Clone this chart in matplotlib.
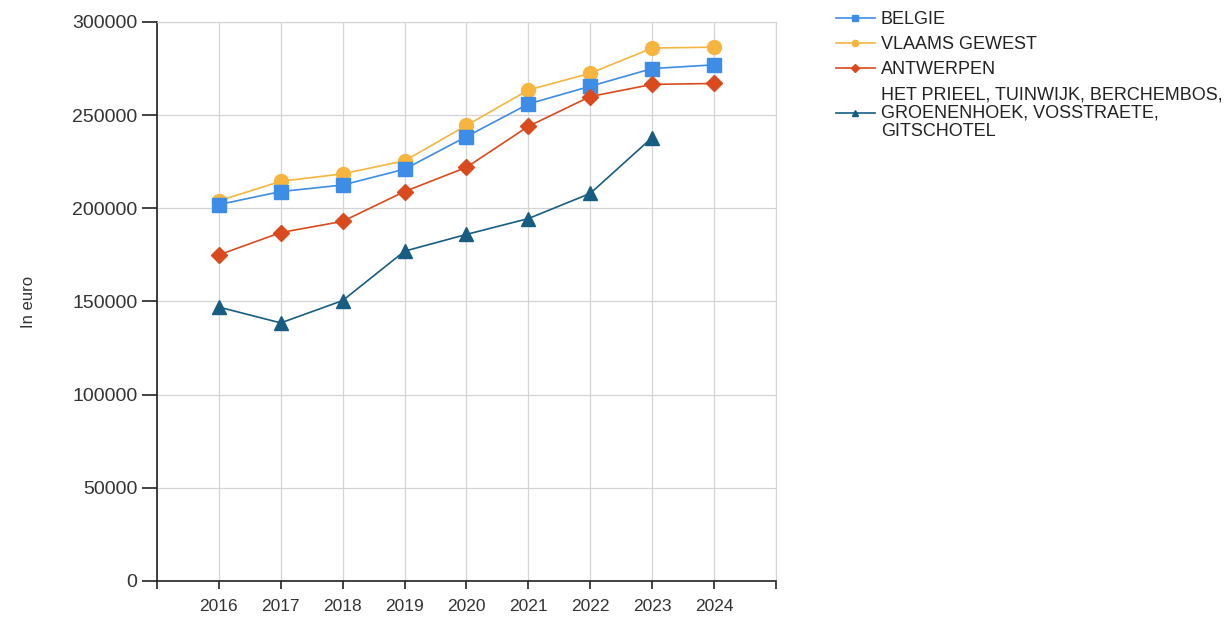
import matplotlib.pyplot as plt
import numpy as np

# data
years = [2016, 2017, 2018, 2019, 2020, 2021, 2022, 2023, 2024]
belgie = [202000, 209000, 212500, 221000, 238500, 256000, 265500, 275000, 277000]
vlaams_gewest = [204000, 214500, 218500, 225500, 244500, 263500, 272500, 286000, 286500]
antwerpen = [175000, 187000, 193000, 209000, 222000, 244000, 260000, 266500, 267000]
wijk = [147000, 138500, 150500, 177000, 186000, 194500, 208000, 238000]

labels = ['BELGIE', 'VLAAMS GEWEST', 'ANTWERPEN',
          'HET PRIEEL, TUINWIJK, BERCHEMBOS,\nGROENENHOEK, VOSSTRAETE,\nGITSCHOTEL']
colors = ['#3d8ce6', '#f5b53f', '#d94a1e', '#175d82']

plt.rcParams['font.family'] = ['Liberation Sans', 'DejaVu Sans']

fig = plt.figure(figsize=(12.3, 6.19), dpi=100)
ax = fig.add_axes([0.1276, 0.0614, 0.5033, 0.9031])

ax.plot(years, belgie, '-s', color=colors[0], lw=1.2, ms=10, label=labels[0], zorder=3)
ax.plot(years, vlaams_gewest, '-o', color=colors[1], lw=1.2, ms=10, label=labels[1], zorder=2)
ax.plot(years, antwerpen, '-D', color=colors[2], lw=1.2, ms=8, label=labels[2], zorder=4)
ax.plot(years[:len(wijk)], wijk, '-^', color=colors[3], lw=1.2, ms=10, label=labels[3], zorder=5)

ax.set_xlim(2015, 2025)
ax.set_ylim(0, 300000)
ax.set_xticks(range(2015, 2026))
ax.set_xticklabels([''] + [str(y) for y in years] + [''])
ax.set_yticks(np.arange(0, 300001, 50000))
ax.grid(True, color='#d4d4d4', lw=0.9)
ax.set_axisbelow(True)
for s in ['top', 'right']:
    ax.spines[s].set_color('#d4d4d4')
for s in ['left', 'bottom']:
    ax.spines[s].set_color('#222222')
    ax.spines[s].set_linewidth(1.2)
ax.tick_params(axis='y', labelsize=14, length=11, width=1.2, pad=3, colors='#222222', labelcolor='#333333')
ax.tick_params(axis='x', labelsize=12.5, length=6, width=1.2, colors='#222222', labelcolor='#333333', pad=7)
ax.set_ylabel('In euro', fontsize=12, color='#333333', labelpad=26)

leg = fig.legend(loc='upper left', bbox_to_anchor=(0.6705, 1.0), frameon=False,
                 fontsize=13, markerscale=0.45, handlelength=2.2, handletextpad=0.3,
                 labelspacing=0.45, borderpad=0.1)
for t in leg.get_texts():
    t.set_linespacing(1.12)
    t.set_color('#222222')

fig.savefig('out.png', dpi=100)
